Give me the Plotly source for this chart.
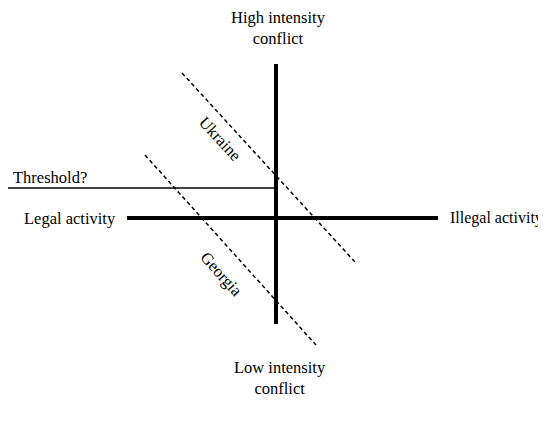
import plotly.graph_objects as go

# Diagram coordinates: origin at the axis crossing, x to the right, y upward
axis_h_x = [-149, 162]
axis_h_y = [0, 0]
axis_v_x = [0, 0]
axis_v_y = [154, -106]
threshold_x = [-269, 0]
threshold_y = [30, 30]
ukraine_x = [-94, 79]
ukraine_y = [145, -44]
georgia_x = [-131, 40]
georgia_y = [63, -127]

label_texts = ["High intensity<br>conflict", "Low intensity<br>conflict",
               "Legal activity", "Illegal activity", "Threshold?", "Ukraine", "Georgia"]
label_x = [2, 4, -206, 269, -265, -56, -54]
label_y = [190, -160, 0, 0, 41, 80, -56]
label_angle = [0, 0, 0, 0, 0, 47.5, 48]
label_anchor = ["center", "center", "center", "right", "left", "center", "center"]
label_size = [16.5, 16.5, 16.5, 16, 16.5, 16.5, 16.5]

FONT = "Liberation Serif, Times New Roman, serif"

fig = go.Figure()
fig.add_trace(go.Scatter(x=axis_h_x, y=axis_h_y, mode="lines",
                         line=dict(color="black", width=4), hoverinfo="skip"))
fig.add_trace(go.Scatter(x=axis_v_x, y=axis_v_y, mode="lines",
                         line=dict(color="black", width=4), hoverinfo="skip"))
fig.add_trace(go.Scatter(x=threshold_x, y=threshold_y, mode="lines",
                         line=dict(color="black", width=1.5), hoverinfo="skip"))
fig.add_trace(go.Scatter(x=ukraine_x, y=ukraine_y, mode="lines",
                         line=dict(color="black", width=1.5, dash="4px,3px"), hoverinfo="skip"))
fig.add_trace(go.Scatter(x=georgia_x, y=georgia_y, mode="lines",
                         line=dict(color="black", width=1.5, dash="4px,3px"), hoverinfo="skip"))

for t, x, y, a, anc, s in zip(label_texts, label_x, label_y, label_angle, label_anchor, label_size):
    fig.add_annotation(x=x, y=y, text=t, showarrow=False, textangle=a,
                       xanchor=anc, yanchor="middle",
                       font=dict(family=FONT, size=s, color="black"))

# ranges offset by the page's 8px body margin so marks land where the reference has them
fig.update_layout(
    width=546, height=423,
    margin=dict(l=0, r=0, t=0, b=0),
    paper_bgcolor="white", plot_bgcolor="white",
    showlegend=False,
    xaxis=dict(range=[-268, 278], visible=False, fixedrange=True),
    yaxis=dict(range=[-213, 210], visible=False, fixedrange=True),
)

fig.write_html("out.html")
